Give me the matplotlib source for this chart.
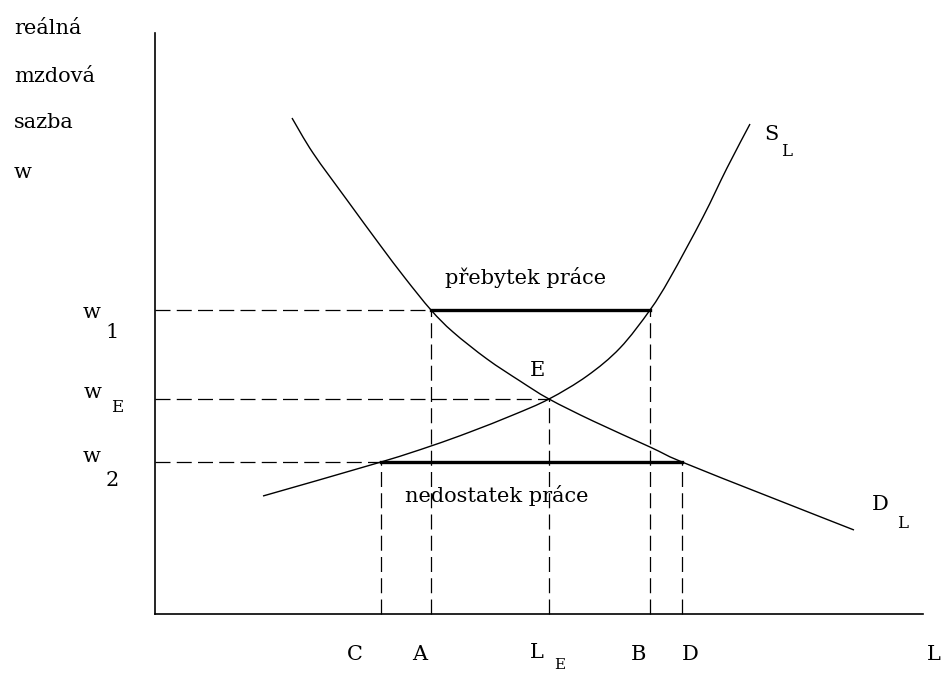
import matplotlib
matplotlib.use('Agg')
import matplotlib.pyplot as plt
from matplotlib.path import Path
from matplotlib.patches import PathPatch

# labour market diagram: real wage w vs labour L
# units: 1 unit = 10 px of the original picture, origin at the axes corner

w1 = 30.4
wE = 21.5
w2 = 15.2
L_C = 22.6
L_A = 27.6
L_E = 39.4
L_B = 49.5
L_D = 52.7

demand_x = [13.7, 15.8, 19.2, 22.5, 25.0, 27.6, 29.8, 33.2, 36.5, 39.4, 43.8, 49.5, 52.7, 61.5, 69.9]
demand_y = [49.6, 46.1, 41.4, 36.9, 33.6, 30.4, 28.2, 25.5, 23.3, 21.5, 19.3, 16.7, 15.2, 11.7, 8.4]

supply_x = [10.8, 22.6, 27.6, 31.5, 35.8, 39.4, 43.2, 46.5, 49.5, 51.5, 54.8, 57.2, 59.5]
supply_y = [11.8, 15.2, 16.8, 18.2, 19.9, 21.5, 23.8, 26.6, 30.4, 33.6, 39.7, 44.6, 49.0]

x_axis_end = 76.8
y_axis_end = 58.1

y_title = ['reálná', 'mzdová', 'sazba', 'w']
y_title_pos = [58.6, 53.7, 49.1, 44.1]


def smooth_path(xs, ys):
    # Catmull-Rom style bezier through the read points (drawing only)
    pts = list(zip(xs, ys))
    verts = [pts[0]]
    codes = [Path.MOVETO]
    n = len(pts)
    for i in range(n - 1):
        p0 = pts[i - 1] if i > 0 else pts[i]
        p1 = pts[i]
        p2 = pts[i + 1]
        p3 = pts[i + 2] if i + 2 < n else pts[i + 1]
        c1 = (p1[0] + (p2[0] - p0[0]) / 6, p1[1] + (p2[1] - p0[1]) / 6)
        c2 = (p2[0] - (p3[0] - p1[0]) / 6, p2[1] - (p3[1] - p1[1]) / 6)
        verts += [c1, c2, p2]
        codes += [Path.CURVE4] * 3
    return Path(verts, codes)


plt.rcParams['font.family'] = ['DejaVu Serif']

fig = plt.figure(figsize=(9.44, 6.75), dpi=100)
ax = fig.add_axes([0, 0, 1, 1])
ax.set_xlim(-15.5, 78.9)
ax.set_ylim(-6.1, 61.4)
ax.axis('off')

# axes
ax.plot([0, 0], [0, y_axis_end], color='black', lw=1.2)
ax.plot([0, x_axis_end], [0, 0], color='black', lw=1.2)

dash = (0, (12, 5))
# dashed guides
ax.plot([0, L_A], [w1, w1], color='black', lw=0.9, ls=dash)
ax.plot([0, L_E], [wE, wE], color='black', lw=0.9, ls=dash)
ax.plot([0, L_C], [w2, w2], color='black', lw=0.9, ls=dash)
ax.plot([L_A, L_A], [0, w1], color='black', lw=0.9, ls=dash)
ax.plot([L_B, L_B], [0, w1], color='black', lw=0.9, ls=dash)
ax.plot([L_E, L_E], [0, wE], color='black', lw=0.9, ls=dash)
ax.plot([L_C, L_C], [0, w2], color='black', lw=0.9, ls=dash)
ax.plot([L_D, L_D], [0, w2], color='black', lw=0.9, ls=dash)

# surplus / shortage bars
ax.plot([L_A, L_B], [w1, w1], color='black', lw=2.4)
ax.plot([L_C, L_D], [w2, w2], color='black', lw=2.4)

# curves
ax.add_patch(PathPatch(smooth_path(demand_x, demand_y), fill=False, color='black', lw=1.0))
ax.add_patch(PathPatch(smooth_path(supply_x, supply_y), fill=False, color='black', lw=1.0))

fs = 15
for t, y in zip(y_title, y_title_pos):
    ax.text(-14.1, y, t, fontsize=fs, ha='left', va='center')

# wage labels with subscripts
ax.text(-6.3, 30.1, 'w', fontsize=fs, ha='center', va='center')
ax.text(-4.3, 28.2, '1', fontsize=fs, ha='center', va='center')
ax.text(-6.2, 22.2, 'w', fontsize=fs, ha='center', va='center')
ax.text(-3.8, 20.6, 'E', fontsize=12, ha='center', va='center')
ax.text(-6.3, 15.7, 'w', fontsize=fs, ha='center', va='center')
ax.text(-4.3, 13.4, '2', fontsize=fs, ha='center', va='center')

# labour labels
ax.text(20.0, -4.1, 'C', fontsize=fs, ha='center', va='center')
ax.text(26.5, -4.1, 'A', fontsize=fs, ha='center', va='center')
ax.text(38.2, -3.9, 'L', fontsize=fs, ha='center', va='center')
ax.text(40.5, -5.1, 'E', fontsize=11, ha='center', va='center')
ax.text(48.3, -4.0, 'B', fontsize=fs, ha='center', va='center')
ax.text(53.5, -4.0, 'D', fontsize=fs, ha='center', va='center')
ax.text(77.2, -4.0, 'L', fontsize=fs, ha='left', va='center')

ax.text(38.2, 24.4, 'E', fontsize=fs, ha='center', va='center')
ax.text(37.1, 33.6, 'přebytek práce', fontsize=fs, ha='center', va='center')
ax.text(34.2, 11.9, 'nedostatek práce', fontsize=fs, ha='center', va='center')

ax.text(61.6, 47.9, 'S', fontsize=fs, ha='center', va='center')
ax.text(63.2, 46.2, 'L', fontsize=12, ha='center', va='center')
ax.text(72.5, 10.9, 'D', fontsize=fs, ha='center', va='center')
ax.text(74.8, 9.1, 'L', fontsize=12, ha='center', va='center')

fig.savefig('out.png', dpi=100, facecolor='white')
